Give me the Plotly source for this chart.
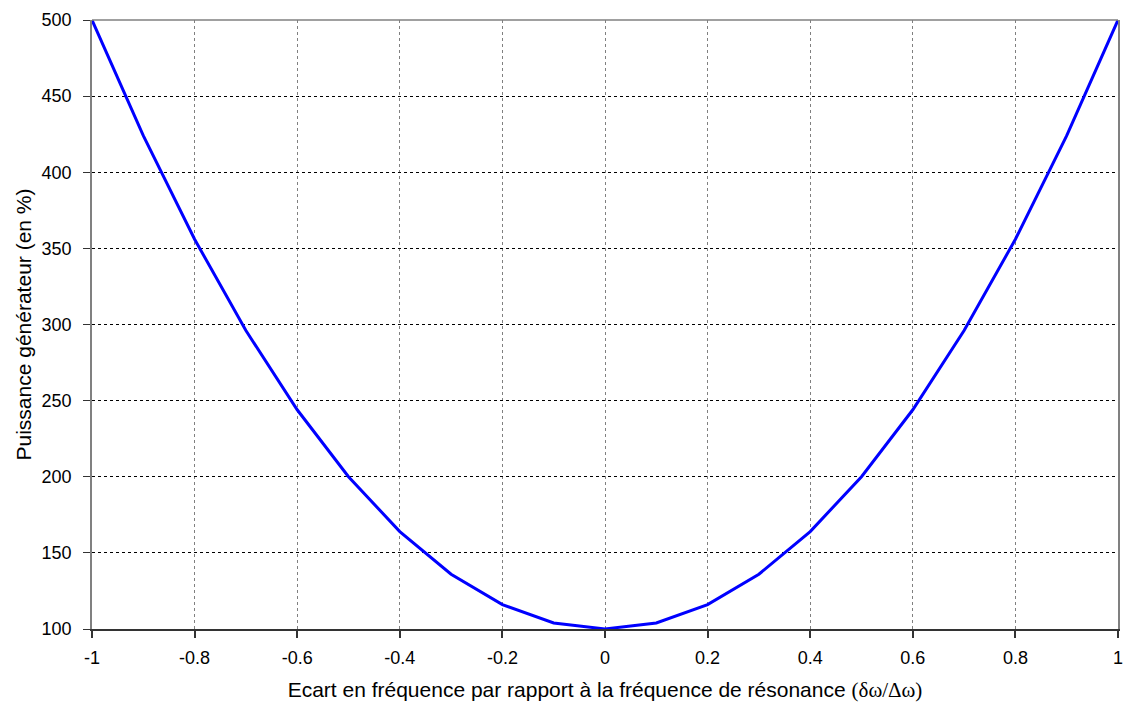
import plotly.graph_objects as go

x_vals = [-1.0, -0.9, -0.8, -0.7, -0.6, -0.5, -0.4, -0.3, -0.2, -0.1, 0.0,
          0.1, 0.2, 0.3, 0.4, 0.5, 0.6, 0.7, 0.8, 0.9, 1.0]
power_pct = [500, 424, 356, 296, 244, 200, 164, 136, 116, 104, 100,
             104, 116, 136, 164, 200, 244, 296, 356, 424, 500]

x_ticks = [-1, -0.8, -0.6, -0.4, -0.2, 0, 0.2, 0.4, 0.6, 0.8, 1]
x_tick_text = ["-1", "-0.8", "-0.6", "-0.4", "-0.2", "0", "0.2", "0.4", "0.6", "0.8", "1"]
y_ticks = [100, 150, 200, 250, 300, 350, 400, 450, 500]

fig = go.Figure()
fig.add_trace(go.Scatter(x=x_vals, y=power_pct, mode="lines",
                         line=dict(color="#0000FF", width=3), showlegend=False,
                         cliponaxis=False))

font = "Liberation Sans, Arial, sans-serif"
fig.update_layout(
    width=1123, height=704,
    margin=dict(l=92, r=5, t=20, b=75),
    paper_bgcolor="white", plot_bgcolor="white",
    font=dict(family=font, size=18, color="black"),
    xaxis=dict(
        range=[-1, 1], tickvals=x_ticks, ticktext=x_tick_text, automargin=False,
        showgrid=True, gridcolor="#808080", griddash="dot", gridwidth=1,
        showline=True, linecolor="#333333", linewidth=1.5,
        ticks="outside", ticklen=7, tickcolor="#333333", tickwidth=1.5,
        tickfont=dict(size=18), zeroline=False, ticklabelstandoff=5,
        ticklabeloverflow="allow",
        title=dict(text="Ecart en fréquence par rapport à la fréquence de résonance "
                        "<span style='font-family:Liberation Serif, Times New Roman, serif'>(δω/Δω)</span>",
                   font=dict(size=21), standoff=15),
    ),
    yaxis=dict(
        range=[100, 500], tickvals=y_ticks, automargin=False,
        showgrid=True, gridcolor="black", griddash="3px,3px", gridwidth=1,
        showline=True, linecolor="#808080", linewidth=1.5, mirror=True,
        ticks="outside", ticklen=7, tickcolor="#333333", tickwidth=1,
        tickfont=dict(size=18), zeroline=False, ticklabelstandoff=8,
        ticklabeloverflow="allow",
        title=dict(text="Puissance générateur (en %)", font=dict(size=21), standoff=4),
    ),
    shapes=[dict(type="line", xref="paper", yref="paper", x0=0, x1=1, y0=1, y1=1,
                 line=dict(color="#808080", width=1.5))],
)

fig.write_html("out.html", config={"displayModeBar": False},
               post_script="document.body.style.margin='0px';document.body.style.overflow='hidden';")
